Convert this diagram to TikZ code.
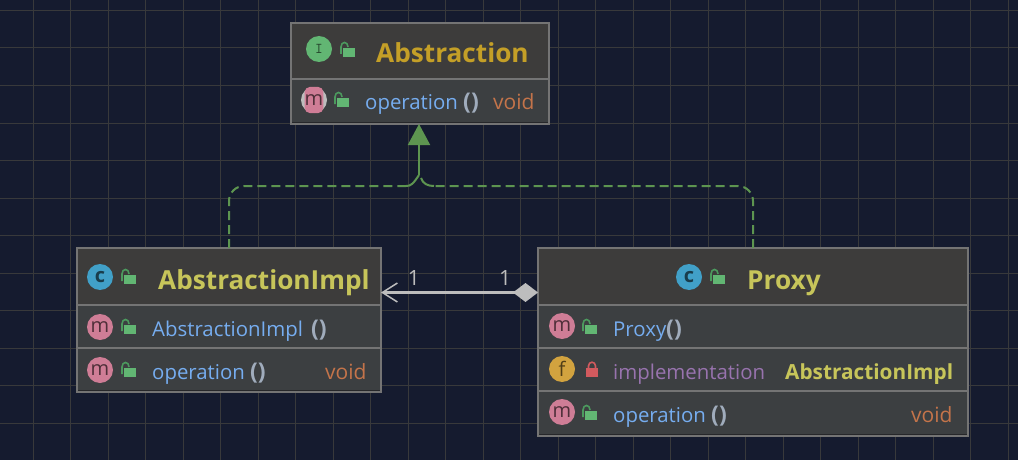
\documentclass[tikz,border=0pt]{standalone}
\usepackage{fontspec}
\setmainfont{Open Sans}
\usepackage{xcolor}
\usetikzlibrary{positioning,arrows.meta}
\definecolor{bgcol}{HTML}{151B2F}
\definecolor{gridcol}{HTML}{38393B}
\definecolor{bordercol}{HTML}{747474}
\definecolor{headcol}{HTML}{3D3C3B}
\definecolor{rowcol}{HTML}{3C3F41}
\definecolor{ifacecol}{HTML}{C49F27}
\definecolor{classcol}{HTML}{C7C55A}
\definecolor{methodcol}{HTML}{76ADF0}
\definecolor{parencol}{HTML}{A0ACBC}
\definecolor{voidcol}{HTML}{C4744A}
\definecolor{fieldcol}{HTML}{9873AE}
\definecolor{edgecol}{HTML}{5D9550}
\definecolor{assoccol}{HTML}{BDBDBD}
\definecolor{lockcol}{HTML}{62B673}
\definecolor{shacklecol}{HTML}{4C9A5E}
\definecolor{redlockcol}{HTML}{D25A5E}
\definecolor{mpink}{HTML}{CF7D96}
\definecolor{cblue}{HTML}{41A0C8}
\definecolor{fgold}{HTML}{D2A33F}
\definecolor{shadecol}{HTML}{26272A}
\tikzset{
  headbox/.style={draw=bordercol,line width=2pt,fill=headcol,rectangle,inner sep=0pt,outer sep=0pt},
  rowbox/.style={draw=bordercol,line width=2pt,fill=rowcol,rectangle,inner sep=0pt,outer sep=0pt},
  icon/.style={circle,minimum size=26pt,inner sep=0pt,fill=#1,text=black!62!#1,font=\fontsize{20}{22}\selectfont},
  title/.style={anchor=base west,inner sep=0pt,font=\bfseries\fontsize{26.2}{30}\selectfont},
  member/.style={anchor=base west,inner sep=0pt,font=\fontsize{20.4}{24}\selectfont},
  paren/.style={member,text=parencol,font=\bfseries\fontsize{23}{24}\selectfont},
  typename/.style={member,text=voidcol,font=\fontsize{21}{24}\selectfont},
  realizes/.style={edgecol,line width=2pt},
  mult/.style={text=assoccol,inner sep=0pt,font=\fontsize{21}{24}\selectfont},
  openlock/.pic={
    \fill[lockcol] (-5,-2) rectangle (7,7);
    \draw[shacklecol,line width=1.6pt] (-7,4) -- (-7,-3) .. controls (-7,-9) and (0,-9) .. (0,-3);
  },
  closedlock/.pic={
    \fill[redlockcol] (-6,-1) rectangle (6,8);
    \draw[redlockcol,line width=1.6pt] (-3.5,0) -- (-3.5,-3) .. controls (-3.5,-8) and (3.5,-8) .. (3.5,-3) -- (3.5,0);
  }
}
\begin{document}
\begin{tikzpicture}[x=1pt,y=-1pt]
  \useasboundingbox (0,0) rectangle (1018,460);
  \fill[bgcol] (0,0) rectangle (1018,460);
  % background grid
  \foreach \gx in {0,...,26}
    \draw[gridcol,line width=1pt] ({33+37.5*\gx},0) -- ({33+37.5*\gx},460);
  \foreach \gy in {-1,...,10}
    \draw[gridcol,line width=1pt] (0,{48+37.5*\gy}) -- (1018,{48+37.5*\gy});

  % Abstraction
  \node[headbox,minimum width=258pt,minimum height=56pt] (absHead) at (420,51) {};
  \node[rowbox,minimum width=258pt,minimum height=45pt,below=0pt of absHead] (absOp) {};
  \node[icon=lockcol] (absIcon) at (319,49) {\fontsize{15}{16}\selectfont\texttt{I}};
  \pic at (348,50) {openlock};
  \node[title,text=ifacecol] (absName) at (376,63) {Abstraction};
  \node[icon=assoccol] (absOpRing) at (314,100) {};
  \node[rectangle,rounded corners=5pt,fill=mpink,minimum width=17pt,minimum height=26pt,inner sep=0pt,text=black!62!mpink,font=\fontsize{20}{22}\selectfont] (absOpIcon) at (314,100) {m};
  \pic at (342,100) {openlock};
  \node[member,text=methodcol] (absOpName) at (365,110) {operation};
  \node[paren] (absOpParen) at (463,110) {()};
  \node[typename] (absOpType) at (493,110) {void};

  % AbstractionImpl
  \node[headbox,minimum width=304pt,minimum height=57pt] (implHead) at (229,276.5) {};
  \node[rowbox,minimum width=304pt,minimum height=43pt,below=0pt of implHead] (implCtor) {};
  \node[rowbox,minimum width=304pt,minimum height=44pt,below=0pt of implCtor] (implOp) {};
  \node[icon=cblue] (implIcon) at (100,277) {\fontsize{20}{22}\selectfont\textbf{c}};
  \pic at (129,277) {openlock};
  \node[title,text=classcol] (implName) at (158,289) {AbstractionImpl};
  \node[icon=mpink] (implCtorIcon) at (100,327) {m};
  \pic at (129,327) {openlock};
  \node[member,text=methodcol] (implCtorName) at (152,336) {AbstractionImpl};
  \node[paren] (implCtorParen) at (311,336) {()};
  \node[icon=mpink] (implOpIcon) at (100,370) {m};
  \pic at (129,370) {openlock};
  \node[member,text=methodcol] (implOpName) at (152,379) {operation};
  \node[paren] (implOpParen) at (250,379) {()};
  \node[typename] (implOpType) at (325,379) {void};

  % Proxy
  \node[headbox,minimum width=430pt,minimum height=57pt] (proxyHead) at (753,276.5) {};
  \node[rowbox,minimum width=430pt,minimum height=43pt,below=0pt of proxyHead] (proxyCtor) {};
  \node[rowbox,minimum width=430pt,minimum height=43pt,below=0pt of proxyCtor] (proxyField) {};
  \node[rowbox,minimum width=430pt,minimum height=45pt,below=0pt of proxyField] (proxyOp) {};
  \node[icon=cblue] (proxyIcon) at (689,277) {\fontsize{20}{22}\selectfont\textbf{c}};
  \pic at (718,277) {openlock};
  \node[title,text=classcol] (proxyName) at (747,289) {Proxy};
  \node[icon=mpink] (proxyCtorIcon) at (562,326) {m};
  \pic at (590,327) {openlock};
  \node[member,text=methodcol] (proxyCtorName) at (613,336) {Proxy};
  \node[paren] (proxyCtorParen) at (666,336) {()};
  \node[icon=fgold] (proxyFieldIcon) at (562,369) {f};
  \pic at (592,369) {closedlock};
  \node[member,text=fieldcol] (proxyFieldName) at (613,379) {implementation};
  \node[member,text=classcol,font=\bfseries\fontsize{20.8}{24}\selectfont] (proxyFieldType) at (785,379) {AbstractionImpl};
  \node[icon=mpink] (proxyOpIcon) at (562,412) {m};
  \pic at (590,413) {openlock};
  \node[member,text=methodcol] (proxyOpName) at (613,422) {operation};
  \node[paren] (proxyOpParen) at (711,422) {()};
  \node[typename] (proxyOpType) at (911,422) {void};

  % dark line above the lower border
  \draw[shadecol,line width=1pt] ([yshift=2pt,xshift=1pt]absOp.south west) -- ([yshift=2pt,xshift=-1pt]absOp.south east);
  \draw[shadecol,line width=1pt] ([yshift=2pt,xshift=1pt]implOp.south west) -- ([yshift=2pt,xshift=-1pt]implOp.south east);
  \draw[shadecol,line width=1pt] ([yshift=2pt,xshift=1pt]proxyOp.south west) -- ([yshift=2pt,xshift=-1pt]proxyOp.south east);

  % connectors
  \coordinate (join) at (419,175);
  \coordinate (leftBend) at (406,186);
  \coordinate (rightBend) at (434,186);
  \draw[realizes,dash pattern=on 9pt off 5pt] (implHead.north) [rounded corners=15pt] |- (leftBend);
  \draw[realizes,dash pattern=on 9pt off 5pt] (proxyHead.north) [rounded corners=15pt] |- (rightBend);
  \draw[realizes] (leftBend) .. controls (411,186) and (413,184) .. (join);
  \draw[realizes] (rightBend) .. controls (428,186) and (423,184) .. (421,178);
  \draw[realizes,-{Triangle[length=21pt,width=22pt]}] (join) -- (absOp.south -| join);
  \draw[assoccol,line width=2.2pt,{Diamond[length=25pt,width=19pt]}-{Straight Barb[length=15pt,width=19pt,line width=1.5pt]}]
    ([yshift=-16pt]proxyHead.west) -- node[pos=0.21,above=6pt,mult] (assocFrom) {1}
    node[pos=0.79,above=6pt,mult] (assocTo) {1} ([yshift=-16pt]implHead.east);
\end{tikzpicture}
\end{document}
